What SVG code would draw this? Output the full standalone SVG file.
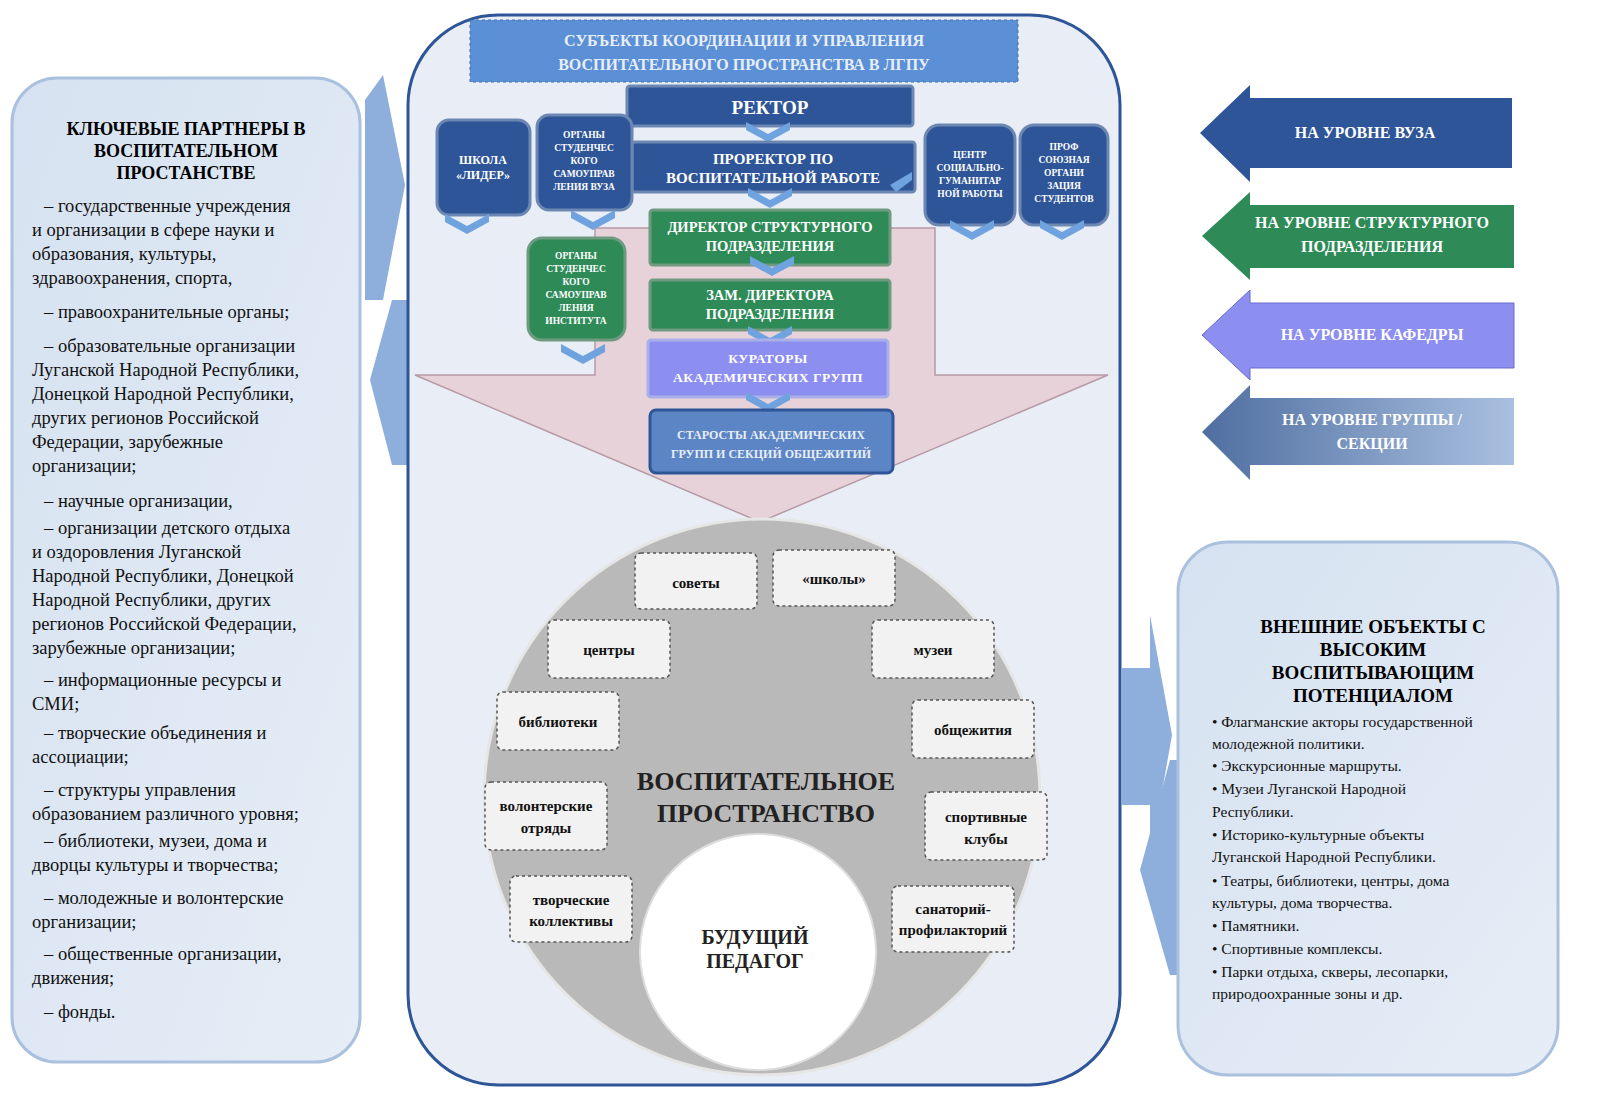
<svg xmlns="http://www.w3.org/2000/svg" width="1600" height="1120" viewBox="0 0 1600 1120">
<style>
text{font-family:"Liberation Serif","DejaVu Serif",serif}
.b{font-weight:bold}
.w{fill:#fff;font-weight:bold;text-anchor:middle}
.wn{fill:#e8eef8;font-weight:bold;text-anchor:middle}
.lt{font-size:18.5px;fill:#111}
.rt{font-size:15.5px;fill:#111}
.db{fill:#f2f2f2;stroke:#555;stroke-width:1.5;stroke-dasharray:3 3}
.dt{font-size:15px;text-anchor:middle;fill:#111;font-weight:bold}
.blue{fill:#2e5597;stroke:#6d87b3;stroke-width:3}
.green{fill:#2e8b57;stroke:#6f9a80;stroke-width:3}
.arr{fill:#8eaedc}
</style>
<defs>
<linearGradient id="pg" x1="0" y1="0" x2="1" y2="1"><stop offset="0" stop-color="#d6e2f1"/><stop offset="1" stop-color="#e6edf6"/></linearGradient>
<linearGradient id="gg" x1="0" x2="1"><stop offset="0" stop-color="#4f6ea0"/><stop offset="1" stop-color="#a9c0e0"/></linearGradient>
<path id="chev" d="M-22,-8 L0,4 L22,-8 L22,0 L0,12 L-22,0 Z" fill="#6fa3e0"/>
</defs>
<rect width="1600" height="1120" fill="#fff"/>

<g id="left-panel">
<rect x="12" y="78" width="348" height="984" rx="45" fill="url(#pg)" stroke="#a9c0de" stroke-width="3"/>
<text class="b" font-size="18" text-anchor="middle"><tspan x="186" y="135">КЛЮЧЕВЫЕ ПАРТНЕРЫ В</tspan><tspan x="186" y="157">ВОСПИТАТЕЛЬНОМ</tspan><tspan x="186" y="179">ПРОСТАНСТВЕ</tspan></text>
<text class="lt">
<tspan x="44" y="212">– государственные учреждения</tspan><tspan x="32" y="236">и организации в сфере науки и</tspan><tspan x="32" y="260">образования, культуры,</tspan><tspan x="32" y="284">здравоохранения, спорта,</tspan>
<tspan x="44" y="318">– правоохранительные органы;</tspan>
<tspan x="44" y="352">– образовательные организации</tspan><tspan x="32" y="376">Луганской Народной Республики,</tspan><tspan x="32" y="400">Донецкой Народной Республики,</tspan><tspan x="32" y="424">других регионов Российской</tspan><tspan x="32" y="448">Федерации, зарубежные</tspan><tspan x="32" y="472">организации;</tspan>
<tspan x="44" y="507">– научные организации,</tspan>
<tspan x="44" y="534">– организации детского отдыха</tspan><tspan x="32" y="558">и оздоровления Луганской</tspan><tspan x="32" y="582">Народной Республики, Донецкой</tspan><tspan x="32" y="606">Народной Республики, других</tspan><tspan x="32" y="630">регионов Российской Федерации,</tspan><tspan x="32" y="654">зарубежные организации;</tspan>
<tspan x="44" y="686">– информационные ресурсы и</tspan><tspan x="32" y="710">СМИ;</tspan>
<tspan x="44" y="739">– творческие объединения и</tspan><tspan x="32" y="763">ассоциации;</tspan>
<tspan x="44" y="796">– структуры управления</tspan><tspan x="32" y="820">образованием различного уровня;</tspan>
<tspan x="44" y="847">– библиотеки, музеи, дома и</tspan><tspan x="32" y="871">дворцы культуры и творчества;</tspan>
<tspan x="44" y="904">– молодежные и волонтерские</tspan><tspan x="32" y="928">организации;</tspan>
<tspan x="44" y="960">– общественные организации,</tspan><tspan x="32" y="984">движения;</tspan>
<tspan x="44" y="1018">– фонды.</tspan></text>
</g>

<g id="connectors">
<path class="arr" d="M365,100 L383,75 L405,185 L383,300 L365,300 Z"/>
<path class="arr" d="M410,300 L410,465 L392,465 L370,380 L392,300 Z"/>
<path class="arr" d="M1122,668 L1150,668 L1150,615 L1172,735 L1150,860 L1150,805 L1122,805 Z"/>
<path class="arr" d="M1195,760 L1195,975 L1170,975 L1140,870 L1170,760 Z"/>
</g>

<g id="center">
<rect x="408" y="15" width="712" height="1070" rx="90" fill="#e9eef6" stroke="#2e5597" stroke-width="3"/>
<path d="M595,228 L935,228 L935,375 L1108,375 L760,522 L415,375 L595,375 Z" fill="#e7d2d9" stroke="#b79aa6" stroke-width="1.5"/>
</g>

<g id="header">
<rect x="470" y="20" width="548" height="62" fill="#5b8fd6" stroke="#3a6cb0" stroke-dasharray="3 3"/>
<text class="wn" font-size="16"><tspan x="744" y="46">СУБЪЕКТЫ КООРДИНАЦИИ И УПРАВЛЕНИЯ</tspan><tspan x="744" y="70">ВОСПИТАТЕЛЬНОГО ПРОСТРАНСТВА В ЛГПУ</tspan></text>
</g>

<g id="rektor"><rect class="blue" x="627" y="86" width="286" height="40" rx="3"/><text class="w" x="770" y="114" font-size="19">РЕКТОР</text><use href="#chev" x="768" y="130"/></g>
<g id="prorektor"><rect class="blue" x="632" y="142" width="283" height="50" rx="3"/><text class="w" font-size="15"><tspan x="773" y="164">ПРОРЕКТОР ПО</tspan><tspan x="773" y="183">ВОСПИТАТЕЛЬНОЙ РАБОТЕ</tspan></text><use href="#chev" x="770" y="196"/><path d="M890,185 L912,172 L912,180 L896,192 Z" fill="#6fa3e0"/></g>
<g id="shkola"><rect class="blue" x="437" y="120" width="93" height="95" rx="12"/><text class="w" font-size="12"><tspan x="483" y="164">ШКОЛА</tspan><tspan x="483" y="179">«ЛИДЕР»</tspan></text><use href="#chev" x="467" y="222"/></g>
<g id="organy-vuz"><rect class="blue" x="537" y="115" width="95" height="95" rx="12"/><text class="w" font-size="9.5"><tspan x="584" y="138">ОРГАНЫ</tspan><tspan x="584" y="151">СТУДЕНЧЕС</tspan><tspan x="584" y="164">КОГО</tspan><tspan x="584" y="177">САМОУПРАВ</tspan><tspan x="584" y="190">ЛЕНИЯ ВУЗА</tspan></text><use href="#chev" x="593" y="218"/></g>
<g id="centr"><rect class="blue" x="925" y="125" width="90" height="100" rx="14"/><text class="w" font-size="9.5"><tspan x="970" y="158">ЦЕНТР</tspan><tspan x="970" y="171">СОЦИАЛЬНО-</tspan><tspan x="970" y="184">ГУМАНИТАР</tspan><tspan x="970" y="197">НОЙ РАБОТЫ</tspan></text><use href="#chev" x="972" y="228"/></g>
<g id="prof"><rect class="blue" x="1020" y="125" width="88" height="100" rx="14"/><text class="w" font-size="9.5"><tspan x="1064" y="150">ПРОФ</tspan><tspan x="1064" y="163">СОЮЗНАЯ</tspan><tspan x="1064" y="176">ОРГАНИ</tspan><tspan x="1064" y="189">ЗАЦИЯ</tspan><tspan x="1064" y="202">СТУДЕНТОВ</tspan></text><use href="#chev" x="1062" y="228"/></g>
<g id="direktor"><rect class="green" x="650" y="210" width="240" height="55" rx="3"/><text class="w" font-size="14.5"><tspan x="770" y="232">ДИРЕКТОР СТРУКТУРНОГО</tspan><tspan x="770" y="251">ПОДРАЗДЕЛЕНИЯ</tspan></text><use href="#chev" x="772" y="264"/></g>
<g id="zam"><rect class="green" x="650" y="280" width="240" height="50" rx="3"/><text class="w" font-size="14.5"><tspan x="770" y="300">ЗАМ. ДИРЕКТОРА</tspan><tspan x="770" y="319">ПОДРАЗДЕЛЕНИЯ</tspan></text><use href="#chev" x="770" y="334"/></g>
<g id="organy-inst"><rect class="green" x="528" y="238" width="97" height="102" rx="14"/><text class="w" font-size="9.5"><tspan x="576" y="259">ОРГАНЫ</tspan><tspan x="576" y="272">СТУДЕНЧЕС</tspan><tspan x="576" y="285">КОГО</tspan><tspan x="576" y="298">САМОУПРАВ</tspan><tspan x="576" y="311">ЛЕНИЯ</tspan><tspan x="576" y="324">ИНСТИТУТА</tspan></text><use href="#chev" x="583" y="352"/></g>
<g id="kuratory"><rect x="648" y="340" width="240" height="57" rx="3" fill="#8c8ef0" stroke="#a9b0e8" stroke-width="3"/><text class="w" font-size="13.5" letter-spacing="0.5"><tspan x="768" y="363">КУРАТОРЫ</tspan><tspan x="768" y="382">АКАДЕМИЧЕСКИХ ГРУПП</tspan></text><use href="#chev" x="768" y="400"/></g>
<g id="starosty"><rect x="650" y="410" width="243" height="63" rx="6" fill="#5b85c4" stroke="#2e5597" stroke-width="3"/><text class="wn" font-size="12"><tspan x="771" y="439">СТАРОСТЫ АКАДЕМИЧЕСКИХ</tspan><tspan x="771" y="458">ГРУПП И СЕКЦИЙ ОБЩЕЖИТИЙ</tspan></text></g>

<g id="space">
<circle cx="762" cy="797" r="278" fill="#b9b9b9" stroke="#e6e6e6" stroke-width="3"/>
<text class="b" font-size="26" text-anchor="middle" fill="#222"><tspan x="766" y="790">ВОСПИТАТЕЛЬНОЕ</tspan><tspan x="766" y="822">ПРОСТРАНСТВО</tspan></text>
</g>
<g id="pedagog"><circle cx="758" cy="952" r="118" fill="#fff" stroke="#ddd" stroke-width="2"/><text class="b" font-size="20" text-anchor="middle" fill="#222"><tspan x="755" y="944">БУДУЩИЙ</tspan><tspan x="755" y="968">ПЕДАГОГ</tspan></text></g>

<g id="sovety"><rect class="db" x="635" y="553" width="122" height="56" rx="6"/><text class="dt" x="696" y="588">советы</text></g>
<g id="shkoly"><rect class="db" x="773" y="550" width="122" height="56" rx="6"/><text class="dt" x="834" y="584">«школы»</text></g>
<g id="centry"><rect class="db" x="548" y="620" width="122" height="58" rx="6"/><text class="dt" x="609" y="655">центры</text></g>
<g id="muzei"><rect class="db" x="872" y="620" width="122" height="58" rx="6"/><text class="dt" x="933" y="655">музеи</text></g>
<g id="biblioteki"><rect class="db" x="497" y="692" width="122" height="58" rx="6"/><text class="dt" x="558" y="727">библиотеки</text></g>
<g id="obshchezhitiya"><rect class="db" x="912" y="700" width="122" height="58" rx="6"/><text class="dt" x="973" y="735">общежития</text></g>
<g id="volontery"><rect class="db" x="485" y="782" width="122" height="68" rx="6"/><text class="dt"><tspan x="546" y="811">волонтерские</tspan><tspan x="546" y="833">отряды</tspan></text></g>
<g id="sport"><rect class="db" x="925" y="792" width="122" height="68" rx="6"/><text class="dt"><tspan x="986" y="822">спортивные</tspan><tspan x="986" y="844">клубы</tspan></text></g>
<g id="tvorch"><rect class="db" x="510" y="876" width="122" height="66" rx="6"/><text class="dt"><tspan x="571" y="905">творческие</tspan><tspan x="571" y="926">коллективы</tspan></text></g>
<g id="sanatoriy"><rect class="db" x="892" y="886" width="122" height="66" rx="6"/><text class="dt" font-size="14"><tspan x="953" y="914">санаторий-</tspan><tspan x="953" y="935">профилакторий</tspan></text></g>

<g id="level-vuz"><path d="M1250,85 L1250,98 L1512,98 L1512,168 L1250,168 L1250,182 L1200,133 Z" fill="#2e5597"/><text class="w" x="1365" y="138" font-size="16">НА УРОВНЕ ВУЗА</text></g>
<g id="level-podr"><path d="M1250,192 L1250,205 L1514,205 L1514,268 L1250,268 L1250,280 L1202,236 Z" fill="#2e8b57"/><text class="w" font-size="16"><tspan x="1372" y="228">НА УРОВНЕ СТРУКТУРНОГО</tspan><tspan x="1372" y="252">ПОДРАЗДЕЛЕНИЯ</tspan></text></g>
<g id="level-kaf"><path d="M1250,290 L1250,303 L1514,303 L1514,368 L1250,368 L1250,380 L1202,335 Z" fill="#8c8ef0" stroke="#6a6ccc"/><text class="w" x="1372" y="340" font-size="16">НА УРОВНЕ КАФЕДРЫ</text></g>
<g id="level-gr"><path d="M1250,385 L1250,398 L1514,398 L1514,465 L1250,465 L1250,480 L1202,432 Z" fill="url(#gg)"/><text class="w" font-size="16"><tspan x="1372" y="425">НА УРОВНЕ ГРУППЫ /</tspan><tspan x="1372" y="449">СЕКЦИИ</tspan></text></g>

<g id="right-panel">
<rect x="1178" y="542" width="380" height="533" rx="50" fill="url(#pg)" stroke="#a9c0de" stroke-width="3"/>
<text class="b" font-size="19" text-anchor="middle"><tspan x="1373" y="633">ВНЕШНИЕ ОБЪЕКТЫ С</tspan><tspan x="1373" y="656">ВЫСОКИМ</tspan><tspan x="1373" y="679">ВОСПИТЫВАЮЩИМ</tspan><tspan x="1373" y="702">ПОТЕНЦИАЛОМ</tspan></text>
<text class="rt"><tspan x="1212" y="727">• Флагманские акторы государственной</tspan><tspan x="1212" y="749">молодежной политики.</tspan><tspan x="1212" y="771">• Экскурсионные маршруты.</tspan><tspan x="1212" y="794">• Музеи Луганской Народной</tspan><tspan x="1212" y="817">Республики.</tspan><tspan x="1212" y="840">• Историко-культурные объекты</tspan><tspan x="1212" y="862">Луганской Народной Республики.</tspan><tspan x="1212" y="886">• Театры, библиотеки, центры, дома</tspan><tspan x="1212" y="908">культуры, дома творчества.</tspan><tspan x="1212" y="931">• Памятники.</tspan><tspan x="1212" y="954">• Спортивные комплексы.</tspan><tspan x="1212" y="977">• Парки отдыха, скверы, лесопарки,</tspan><tspan x="1212" y="999">природоохранные зоны и др.</tspan></text>
</g>
</svg>
